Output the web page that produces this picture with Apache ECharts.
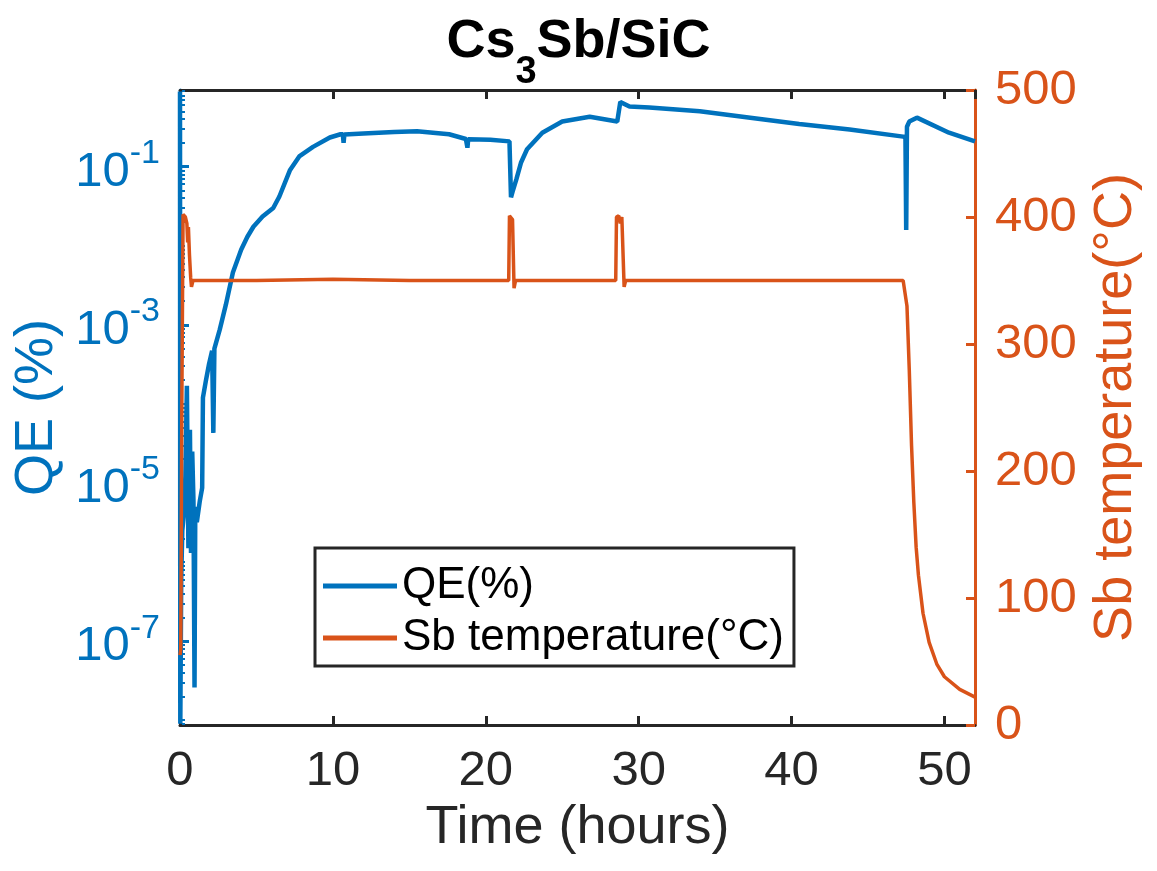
<!DOCTYPE html>
<html>
<head>
<meta charset="utf-8">
<title>Cs3Sb/SiC</title>
<script src="https://cdn.jsdelivr.net/npm/echarts@6.0.0/dist/echarts.min.js"></script>
<style>
html,body{margin:0;padding:0;background:#fff;}
#main{width:1157px;height:871px;}
</style>
</head>
<body>
<div id="main"></div>
<script>
// QE (%) vs time
var qeTime = [0, 0.02, 0.08, 0.15, 0.25, 0.35, 0.45, 0.55, 0.65, 0.72, 0.8, 0.88, 0.95, 1.0, 1.1, 1.3, 1.45, 1.5, 1.7, 1.9,
	2.1, 2.18, 2.25, 2.6, 3.0, 3.46, 4.0, 4.4, 4.8, 5.4, 6.1, 6.5, 7.2, 7.8, 8.7, 9.8, 10.5, 10.65, 10.7, 10.75,
	12, 14, 15.5, 17.6, 18.7, 18.8, 18.85, 20.3, 21.55, 21.65, 21.75, 22.0, 22.3, 22.7, 23.7, 25.0, 26.8, 28.6, 28.7, 28.8,
	29.4, 30.7, 34.0, 37.3, 40.5, 43.8, 47.3, 47.45, 47.5, 47.55, 47.7, 48.2, 50.3, 52];
var qeValue = [0.89, 9e-9, 6e-7, 2.5e-6, 4e-6, 1.2e-5, 1.7e-4, 1.5e-6, 4.7e-5, 1.3e-6, 2.5e-5, 6e-6, 2.6e-8, 5e-6, 3.2e-6, 6e-6, 8.7e-6, 1.2e-4, 2e-4, 3.2e-4,
	4.7e-4, 4.3e-5, 5e-4, 8.7e-4, 1.8e-3, 4.6e-3, 8.9e-3, 0.0129, 0.0174, 0.0234, 0.030, 0.042, 0.091, 0.135, 0.178, 0.234, 0.257, 0.257, 0.20, 0.255,
	0.263, 0.275, 0.28, 0.257, 0.224, 0.174, 0.222, 0.219, 0.209, 0.041, 0.048, 0.069, 0.112, 0.166, 0.269, 0.372, 0.427, 0.372, 0.37, 0.66,
	0.575, 0.562, 0.501, 0.417, 0.347, 0.295, 0.24, 0.24, 0.0158, 0.32, 0.372, 0.417, 0.269, 0.209];

// Sb temperature (°C) vs time
var tempTime = [0, 0.05, 0.12, 0.2, 0.35, 0.45, 0.5, 0.55, 0.62, 0.7, 0.75, 0.85, 5, 10, 15, 20, 21.5,
	21.55, 21.75, 21.85, 21.95, 25, 28.5, 28.55, 28.7, 28.8, 28.9, 29.05, 29.15, 35, 40, 47.3,
	47.4, 47.55, 47.7, 47.85, 48.0, 48.15, 48.3, 48.6, 49.0, 49.5, 50.0, 51.0, 52];
var tempValue = [55, 60, 250, 402, 400, 395, 380, 392, 370, 352, 345, 350, 350, 351, 350, 350, 350,
	401, 398, 344, 350, 350, 350, 400, 401, 395, 400, 345, 350, 350, 350, 350,
	350, 330, 280, 220, 175, 140, 118, 88, 65, 48, 38, 28, 22];

var timeTicks = [0, 52, 10];          // min, max, step
var qeTicks = [1e-7, 1e-5, 1e-3, 1e-1];
var qeRange = [8.7e-9, 0.933];
var tempTicks = [0, 500, 100];

var blue = '#0072BD';
var orange = '#D95319';
var axisBlack = '#262626';
var font = 'Liberation Sans, Arial, Helvetica, sans-serif';

// log minor ticks 2..9 x 10^n plus the unlabeled decades
var qeMinor = [];
for (var n = -9; n <= 0; n++) {
	for (var k = 1; k <= 9; k++) {
		var v = k * Math.pow(10, n);
		if (k == 1 && n % 2 != 0) continue;
		if (v >= qeRange[0] && v <= qeRange[1]) qeMinor.push(v);
	}
}

function pairs(xs, ys) {
	var out = [];
	for (var i = 0; i < xs.length; i++) out.push([xs[i], ys[i]]);
	return out;
}

var myChart = echarts.init(document.getElementById('main'), null, {renderer: 'canvas'});

var xCommon = {
	type: 'value',
	min: timeTicks[0],
	max: timeTicks[1],
	interval: timeTicks[2],
	axisLine: {show: true, lineStyle: {color: axisBlack, width: 3}},
	axisTick: {show: true, inside: true, length: 9, lineStyle: {color: axisBlack, width: 3}},
	splitLine: {show: false}
};

option = {
	backgroundColor: '#fff',
	animation: false,
	textStyle: {fontFamily: font},
	title: {
		text: '{a|Cs}{s|3}{a|Sb/SiC}',
		left: 'center',
		top: 10,
		textStyle: {
			rich: {
				a: {fontSize: 54, fontWeight: 'bold', color: '#000', fontFamily: font, lineHeight: 54, verticalAlign: 'top'},
				s: {fontSize: 38, fontWeight: 'bold', color: '#000', fontFamily: font, lineHeight: 116, verticalAlign: 'middle'}
			}
		}
	},
	grid: {left: 180, right: 182, top: 90, bottom: 146, containLabel: false},
	legend: {
		left: 315,
		top: 548,
		orient: 'vertical',
		icon: 'rect',
		itemWidth: 74,
		itemHeight: 5,
		itemGap: 8,
		padding: [16, 10, 6, 8],
		borderColor: axisBlack,
		borderWidth: 3,
		backgroundColor: '#fff',
		textStyle: {fontSize: 44, color: '#000', fontFamily: font},
		data: ['QE(%)', 'Sb temperature(°C)']
	},
	xAxis: [
		Object.assign({}, xCommon, {
			position: 'bottom',
			name: 'Time (hours)',
			nameLocation: 'middle',
			nameGap: 68,
			nameTextStyle: {fontSize: 54, color: axisBlack, fontFamily: font},
			axisLabel: {show: true, margin: 22, fontSize: 49, color: axisBlack, fontFamily: font}
		}),
		Object.assign({}, xCommon, {
			position: 'top',
			axisLabel: {show: false}
		})
	],
	yAxis: [
		{
			type: 'log',
			position: 'left',
			min: qeRange[0],
			max: qeRange[1],
			name: 'QE (%)',
			nameLocation: 'middle',
			nameRotate: 90,
			nameGap: 114,
			nameTextStyle: {fontSize: 54, color: blue, fontFamily: font},
			axisLine: {show: true, lineStyle: {color: blue, width: 3}},
			axisTick: {show: true, inside: true, length: 9, customValues: qeTicks, lineStyle: {color: blue, width: 3}},
			axisLabel: {
				show: true,
				margin: 20,
				customValues: qeTicks,
				formatter: function(v) {
					var e = Math.round(Math.log10(v));
					return '{b|10}{s|' + e + '}{h| }';
				},
				rich: {
					b: {fontSize: 49, color: blue, fontFamily: font, lineHeight: 49, verticalAlign: 'bottom'},
					s: {fontSize: 34, color: blue, fontFamily: font, lineHeight: 34, verticalAlign: 'top'},
					h: {fontSize: 4, lineHeight: 60, width: 0}
				}
			},
			splitLine: {show: false}
		},
		{
			// minor ticks only
			type: 'log',
			position: 'left',
			min: qeRange[0],
			max: qeRange[1],
			axisLine: {show: false},
			axisTick: {show: true, inside: true, length: 5, customValues: qeMinor, lineStyle: {color: blue, width: 2}},
			axisLabel: {show: false},
			splitLine: {show: false}
		},
		{
			type: 'value',
			position: 'right',
			min: tempTicks[0],
			max: tempTicks[1],
			interval: tempTicks[2],
			name: 'Sb temperature(°C)',
			nameLocation: 'middle',
			nameRotate: 90,
			nameGap: 114,
			nameTextStyle: {fontSize: 54, color: orange, fontFamily: font},
			axisLine: {show: true, lineStyle: {color: orange, width: 3}},
			axisTick: {show: true, inside: true, length: 9, lineStyle: {color: orange, width: 3}},
			axisLabel: {show: true, margin: 20, fontSize: 49, color: orange, fontFamily: font},
			splitLine: {show: false}
		}
	],
	series: [
		{
			name: 'QE(%)',
			type: 'line',
			xAxisIndex: 0,
			yAxisIndex: 0,
			symbol: 'none',
			lineStyle: {color: blue, width: 4.5},
			itemStyle: {color: blue},
			z: 2,
			data: pairs(qeTime, qeValue)
		},
		{
			name: 'Sb temperature(°C)',
			type: 'line',
			xAxisIndex: 0,
			yAxisIndex: 2,
			symbol: 'none',
			lineStyle: {color: orange, width: 3.5},
			itemStyle: {color: orange},
			z: 3,
			data: pairs(tempTime, tempValue)
		}
	]
};

myChart.setOption(option);
</script>
</body>
</html>
